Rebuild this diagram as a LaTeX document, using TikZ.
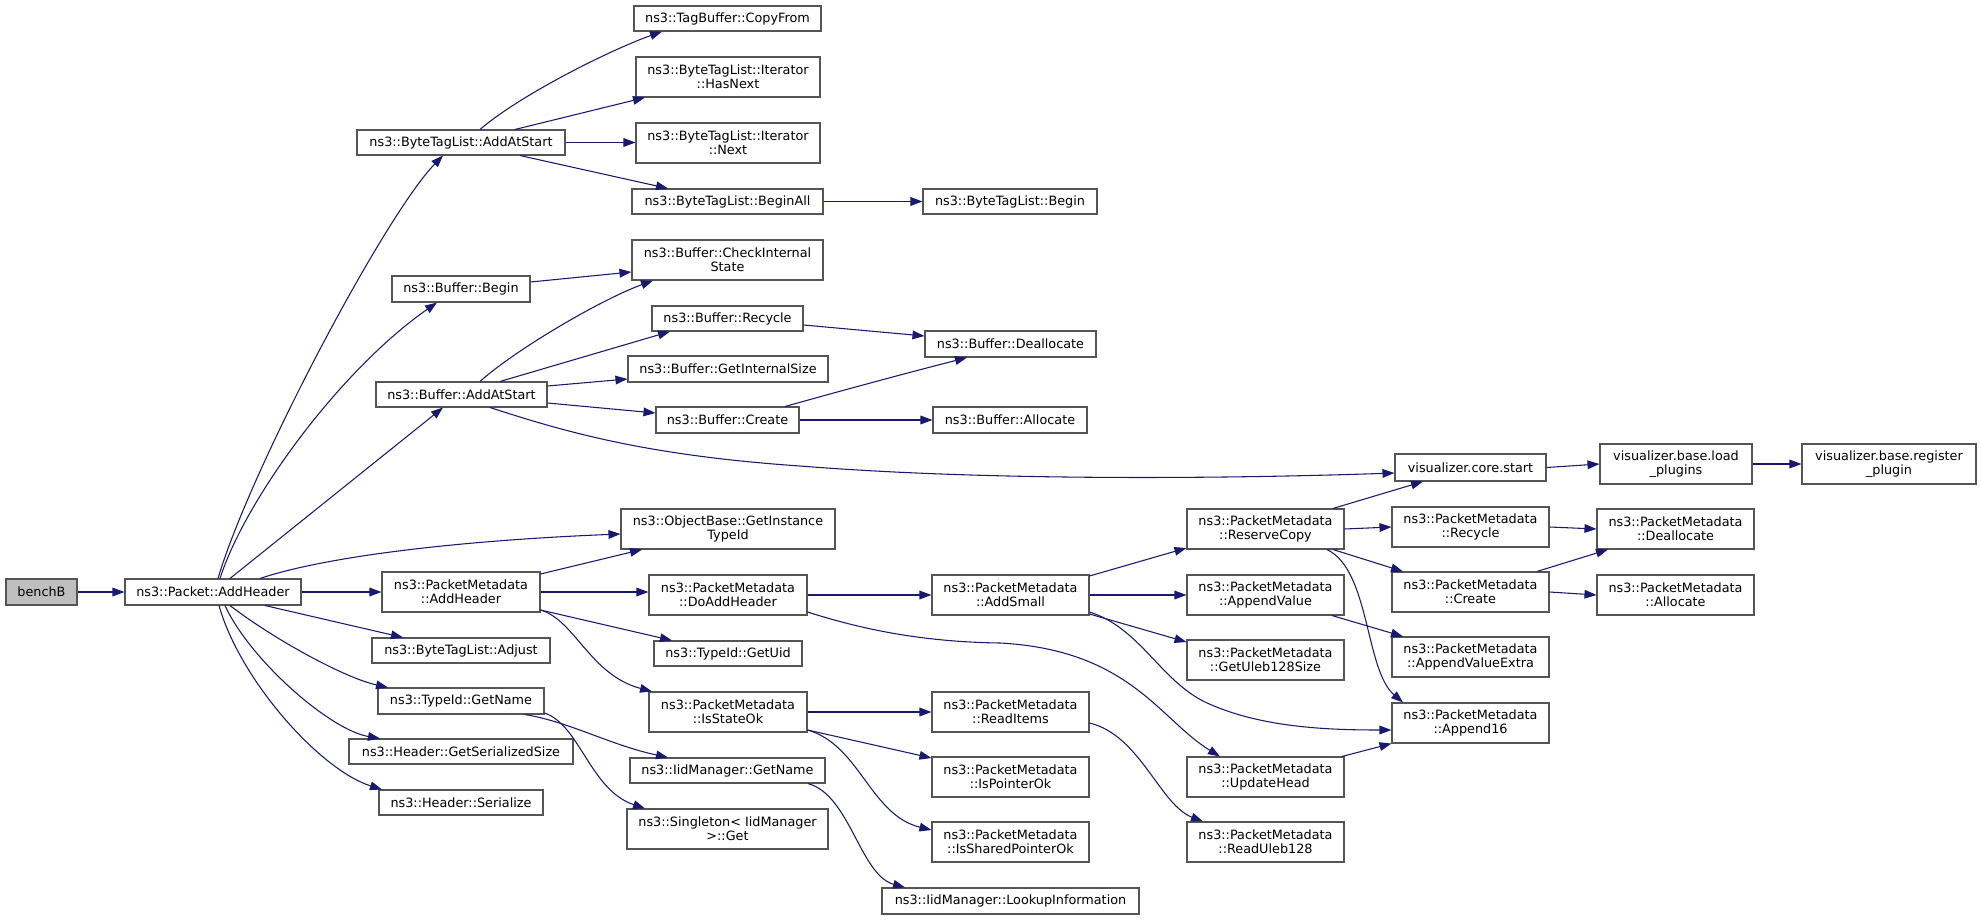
\documentclass[tikz,border=0pt]{standalone}
\usepackage{fontspec}
\setmainfont{DejaVu Sans}
\usetikzlibrary{arrows.meta}
\definecolor{edgec}{HTML}{191970}
\definecolor{boxc}{HTML}{555555}
\definecolor{startc}{HTML}{BFBFBF}
\tikzset{
  box/.style={draw=boxc, line width=0.8pt, fill=white, inner sep=0pt, align=center,
              font=\fontsize{9.6}{10.8}\selectfont},
  startbox/.style={fill=startc},
  e/.style={draw=edgec, line width=0.8pt, -{Triangle[length=9pt,width=6.5pt]}},
}
\newcommand\mynode[7][]{%
  \pgfmathsetmacro\myw{(#5-#3)*0.75}%
  \pgfmathsetmacro\myh{(#6-#4)*0.75}%
  \node[box,#1,minimum width=\myw pt,minimum height=\myh pt] (#2) at ({(#3+#5)/2},{(#4+#6)/2}) {#7};}
\begin{document}
\begin{tikzpicture}[x=0.75pt,y=-0.75pt]
\useasboundingbox (0,0) rectangle (1981,920);
% nodes
\mynode[startbox]{bench}{6}{579}{77}{605}{benchB}
\mynode{pah}{125}{579}{301}{605}{ns3::Packet::AddHeader}
\mynode{btlaas}{357}{130}{565}{155}{ns3::ByteTagList::AddAtStart}
\mynode{bbeg}{392}{276}{530}{302}{ns3::Buffer::Begin}
\mynode{baas}{376}{382}{547}{407}{ns3::Buffer::AddAtStart}
\mynode{obg}{621}{509}{835}{549}{ns3::ObjectBase::GetInstance\\TypeId}
\mynode{pmah}{382}{572}{540}{612}{ns3::PacketMetadata\\::AddHeader}
\mynode{adj}{372}{638}{550}{663}{ns3::ByteTagList::Adjust}
\mynode{tgn}{378}{688}{544}{714}{ns3::TypeId::GetName}
\mynode{gss}{349}{739}{573}{764}{ns3::Header::GetSerializedSize}
\mynode{hser}{379}{790}{543}{815}{ns3::Header::Serialize}
\mynode{tbcf}{634}{6}{821}{31}{ns3::TagBuffer::CopyFrom}
\mynode{hasn}{636}{57}{820}{97}{ns3::ByteTagList::Iterator\\::HasNext}
\mynode{next}{636}{123}{820}{163}{ns3::ByteTagList::Iterator\\::Next}
\mynode{ball}{632}{189}{823}{214}{ns3::ByteTagList::BeginAll}
\mynode{bbegin}{923}{189}{1097}{214}{ns3::ByteTagList::Begin}
\mynode{cis}{632}{240}{823}{280}{ns3::Buffer::CheckInternal\\State}
\mynode{brec}{652}{306}{803}{331}{ns3::Buffer::Recycle}
\mynode{gis}{628}{356}{828}{382}{ns3::Buffer::GetInternalSize}
\mynode{bcre}{656}{407}{799}{433}{ns3::Buffer::Create}
\mynode{bdea}{925}{331}{1096}{357}{ns3::Buffer::Deallocate}
\mynode{balo}{933}{407}{1087}{433}{ns3::Buffer::Allocate}
\mynode{vcs}{1395}{454}{1546}{481}{visualizer.core.start}
\mynode{vlp}{1600}{444}{1752}{484}{visualizer.base.load\\\_plugins}
\mynode{vrp}{1802}{444}{1976}{484}{visualizer.base.register\\\_plugin}
\mynode{doah}{649}{575}{807}{615}{ns3::PacketMetadata\\::DoAddHeader}
\mynode{uid}{654}{641}{802}{666}{ns3::TypeId::GetUid}
\mynode{iso}{649}{692}{807}{732}{ns3::PacketMetadata\\::IsStateOk}
\mynode{ign}{630}{758}{825}{783}{ns3::IidManager::GetName}
\mynode{sing}{627}{809}{828}{849}{ns3::Singleton< IidManager\\>::Get}
\mynode{lkp}{882}{888}{1139}{914}{ns3::IidManager::LookupInformation}
\mynode{asm}{932}{575}{1089}{615}{ns3::PacketMetadata\\::AddSmall}
\mynode{rit}{932}{692}{1089}{732}{ns3::PacketMetadata\\::ReadItems}
\mynode{ipo}{932}{757}{1089}{797}{ns3::PacketMetadata\\::IsPointerOk}
\mynode{ispo}{932}{822}{1089}{862}{ns3::PacketMetadata\\::IsSharedPointerOk}
\mynode{rsc}{1187}{509}{1344}{549}{ns3::PacketMetadata\\::ReserveCopy}
\mynode{apv}{1187}{575}{1344}{615}{ns3::PacketMetadata\\::AppendValue}
\mynode{gul}{1187}{640}{1344}{680}{ns3::PacketMetadata\\::GetUleb128Size}
\mynode{uph}{1187}{757}{1344}{797}{ns3::PacketMetadata\\::UpdateHead}
\mynode{rul}{1187}{822}{1344}{862}{ns3::PacketMetadata\\::ReadUleb128}
\mynode{prec}{1392}{507}{1549}{547}{ns3::PacketMetadata\\::Recycle}
\mynode{pcre}{1392}{572}{1549}{612}{ns3::PacketMetadata\\::Create}
\mynode{ave}{1392}{637}{1549}{677}{ns3::PacketMetadata\\::AppendValueExtra}
\mynode{a16}{1392}{703}{1549}{743}{ns3::PacketMetadata\\::Append16}
\mynode{pdea}{1597}{509}{1754}{549}{ns3::PacketMetadata\\::Deallocate}
\mynode{palo}{1597}{575}{1754}{615}{ns3::PacketMetadata\\::Allocate}
% edges
\draw[e] (bench.east) -- (pah.west);
\draw[e] (pah.north -| 218,0) .. controls (250,470) and (385,215) .. (btlaas.south -| 443,0);
\draw[e] (pah.north -| 220,0) .. controls (245,500) and (340,370) .. (bbeg.south -| 437,0);
\draw[e] (pah.north -| 230,0) -- (baas.south -| 443,0);
\draw[e] (pah.north -| 260,0) .. controls (330,555) and (470,540) .. (obg.west |- 0,534);
\draw[e] (pah.east) -- (pmah.west |- pah.east);
\draw[e] (pah.south -| 265,0) -- (adj.north -| 403,0);
\draw[e] (pah.south -| 230,0) .. controls (275,640) and (345,678) .. (tgn.north -| 388,0);
\draw[e] (pah.south -| 225,0) .. controls (250,660) and (330,730) .. (gss.north -| 380,0);
\draw[e] (pah.south -| 219,0) .. controls (240,680) and (320,770) .. (hser.north -| 382,0);
\draw[e] (btlaas.north -| 480,0) .. controls (520,95) and (610,50) .. (tbcf.south -| 662,0);
\draw[e] (btlaas.north -| 515,0) -- (hasn.south -| 645,0);
\draw[e] (btlaas.east) -- (next.west |- btlaas.east);
\draw[e] (btlaas.south -| 520,0) -- (ball.north -| 668,0);
\draw[e] (ball.east) -- (bbegin.west);
\draw[e] (bbeg.east |- 0,282) -- (cis.west |- 0,272);
\draw[e] (baas.north -| 480,0) .. controls (515,350) and (600,300) .. (cis.south -| 653,0);
\draw[e] (baas.north -| 500,0) -- (brec.south -| 670,0);
\draw[e] (baas.east |- 0,386) -- (gis.west |- 0,379);
\draw[e] (baas.east |- 0,403) -- (bcre.west |- 0,413);
\draw[e] (baas.south -| 490,0) .. controls (560,430) and (640,455) .. (800,466)
         .. controls (1000,482) and (1250,478) .. (vcs.west |- 0,473);
\draw[e] (brec.east |- 0,325) -- (bdea.west |- 0,336);
\draw[e] (bcre.north -| 785,0) .. controls (830,394) and (880,380) .. (bdea.south -| 967,0);
\draw[e] (bcre.east) -- (balo.west);
\draw[e] (pmah.east |- 0,574) -- (obg.south -| 642,0);
\draw[e] (pmah.east) -- (doah.west |- pmah.east);
\draw[e] (pmah.east |- 0,610) -- (uid.north -| 672,0);
\draw[e] (pmah.east |- 0,610) .. controls (575,620) and (590,675) .. (iso.north -| 652,0);
\draw[e] (tgn.south -| 525,0) .. controls (570,722) and (610,745) .. (ign.north -| 668,0);
\draw[e] (tgn.east |- 0,713) .. controls (580,725) and (590,790) .. (sing.north -| 645,0);
\draw[e] (ign.south -| 808,0) .. controls (850,795) and (860,875) .. (lkp.north -| 905,0);
\draw[e] (doah.east) -- (asm.west);
\draw[e] (doah.east |- 0,612) .. controls (870,632) and (930,642) .. (1000,643)
         .. controls (1130,650) and (1160,720) .. (uph.north -| 1220,0);
\draw[e] (iso.east) -- (rit.west);
\draw[e] (iso.east |- 0,730) -- (ipo.west |- 0,758);
\draw[e] (iso.east |- 0,730) .. controls (860,745) and (870,815) .. (ispo.west |- 0,830);
\draw[e] (rit.east |- 0,723) .. controls (1140,735) and (1160,805) .. (rul.north -| 1203,0);
\draw[e] (asm.east |- 0,576) -- (rsc.west |- 0,548);
\draw[e] (asm.east) -- (apv.west);
\draw[e] (asm.east |- 0,614) -- (gul.west |- 0,642);
\draw[e] (asm.east |- 0,612) .. controls (1140,628) and (1160,680) .. (1205,702)
         .. controls (1260,728) and (1330,730) .. (a16.west |- 0,730);
\draw[e] (rsc.north -| 1333,0) -- (vcs.south -| 1423,0);
\draw[e] (rsc.east) -- (prec.west);
\draw[e] (rsc.south -| 1333,0) -- (pcre.north -| 1403,0);
\draw[e] (rsc.south -| 1327,0) .. controls (1370,570) and (1365,670) .. (a16.north -| 1403,0);
\draw[e] (apv.south -| 1332,0) -- (ave.north -| 1403,0);
\draw[e] (uph.north -| 1342,0) -- (a16.south west);
\draw[e] (prec.east) -- (pdea.west);
\draw[e] (pcre.north -| 1537,0) -- (pdea.south -| 1608,0);
\draw[e] (pcre.east) -- (palo.west);
\draw[e] (vcs.east) -- (vlp.west);
\draw[e] (vlp.east) -- (vrp.west);
\end{tikzpicture}
\end{document}
